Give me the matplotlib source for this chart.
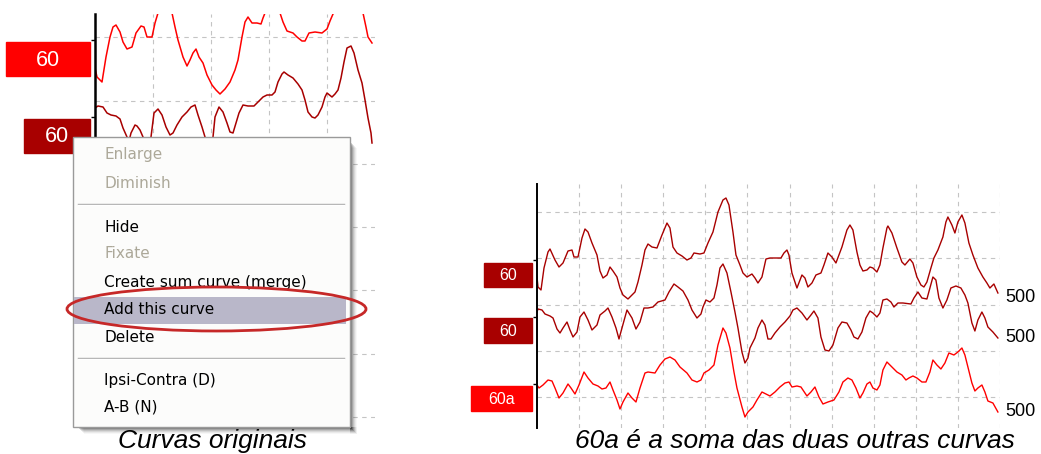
import numpy as np
import matplotlib.pyplot as plt
from matplotlib.patches import Rectangle, Ellipse

# ---- left screenshot: two original curves (time, amplitude) ----
l1_t = [0, 2, 7, 11, 15, 18, 21, 25, 28, 32, 37, 41, 46, 49, 52, 57, 60, 63, 70, 77, 80, 83,
        88, 92, 95, 98, 101, 104, 108, 112, 117, 121, 125, 130, 135, 140, 143, 147, 150, 153,
        157, 162, 166, 168, 170, 177, 185, 188, 192, 198, 202, 207, 210, 214, 220, 227, 232,
        235, 238, 250, 260, 268, 271, 273, 277]
l1_a = [-28, -37, -42, -17, 3, 13, 15, 8, -2, -9, -7, 7, 14, 13, 3, 3, 17, 27, 40, 27, 13, 0,
        -17, -26, -20, -13, -9, -17, -23, -35, -45, -50, -54, -49, -42, -30, -20, 3, 18, 23,
        17, 17, 16, 22, 27, 38, 27, 18, 9, 7, 3, -1, -1, 7, 8, 7, 11,
        19, 26, 45, 40, 27, 13, 3, -3]

l2_t = [0, 3, 8, 12, 16, 21, 25, 28, 32, 34, 36, 40, 42, 45, 48, 51, 56, 59, 63, 67, 71, 75,
        78, 82, 87, 92, 96, 100, 103, 107, 110, 114, 118, 120, 124, 128, 132, 135, 138, 141,
        144, 148, 153, 159, 163, 168, 172, 177, 180, 183, 187, 189, 193, 198, 203, 207, 210,
        213, 217, 220, 223, 227, 230, 232, 237, 240, 243, 246, 249, 252, 256, 259, 263, 267,
        270, 273, 276, 277]
l2_a = [9, 11, 10, 4, 2, 1, -2, -11, -20, -24, -16, -8, -9, -13, -20, -33, -20, 4, 8, 2, -10, -18,
        -16, -8, 0, 5, 10, 12, 2, -10, -20, -28, -20, 0, 10, 5, -6, -15, -16, -6,
        4, 12, 11, 11, 15, 20, 22, 22, 25, 35, 43, 45, 42, 39, 33, 27, 17,
        5, 0, -1, 2, 10, 20, 24, 20, 23, 27, 39, 55, 69, 71, 64, 47, 34,
        17, -1, -16, -26]

# ---- right screenshot: 60, 60 and their sum 60a ----
r1_t = [0, 1, 4, 7, 11, 13, 18, 22, 26, 31, 35, 37, 41, 45, 48, 51, 55, 60, 63, 66, 70, 73,
        76, 80, 83, 86, 91, 95, 98, 101, 105, 108, 111, 115, 120, 125, 130, 133, 136, 140,
        145, 150, 154, 157, 163, 167, 171, 176, 181, 186, 189, 192, 196, 199, 203, 206, 210,
        215, 218, 221, 225, 229, 233, 244, 247, 250, 252, 255, 260, 265, 268, 271, 275, 279,
        284, 287, 291, 295, 299, 302, 305, 310, 313, 316, 320, 323, 326, 330, 333, 336, 340,
        343, 346, 350, 351, 355, 360, 365, 368, 373, 376, 380, 384, 387, 390, 394, 397, 401,
        406, 409, 411, 415, 418, 421, 425, 428, 432, 436, 441, 446, 450, 453, 457, 461]
r1_a = [-17, -27, -30, -8, 8, 11, 0, -7, -3, 9, 10, 3, 3, 22, 31, 28, 17, 5, -11, -18, -15, -7,
        -11, -17, -28, -35, -39, -35, -32, -22, -5, 10, 16, 13, 12, 25, 37, 32, 13, 7,
        4, 0, 2, 7, 6, 7, 17, 28, 48, 60, 62, 55, 28, 5, -5, -13, -17,
        -14, -18, -23, -17, 1, 2, 2, 7, 10, 5, -13, -28, -15, -18, -27, -23, -15,
        -13, -5, 7, 3, -3, 5, 13, 30, 35, 30, 8, -5, -11, -10, -7, -8, -12,
        -5, 12, 32, 34, 27, 12, -2, -5, 1, -3, -17, -25, -27, -22, -8, 2, 10,
        23, 38, 43, 35, 27, 38, 45, 37, 17, 5, -8, -17, -23, -28, -24, -33]

r2_t = [0, 1, 5, 8, 13, 16, 20, 23, 26, 30, 33, 36, 40, 43, 47, 51, 55, 60, 63, 68, 71, 75,
        79, 82, 85, 90, 95, 99, 103, 107, 111, 116, 121, 128, 132, 137, 141, 146, 151, 155,
        160, 164, 166, 169, 173, 177, 180, 183, 186, 190, 194, 198, 201, 205, 208, 211, 213,
        218, 221, 225, 228, 231, 234, 238, 243, 248, 253, 256, 260, 265, 270, 274, 277, 281,
        284, 288, 292, 296, 301, 305, 310, 314, 317, 321, 325, 329, 333, 336, 340, 343, 346,
        350, 354, 357, 361, 366, 374, 377, 381, 385, 390, 393, 396, 399, 402, 406, 410, 414,
        419, 424, 428, 431, 435, 438, 441, 445, 448, 451, 456, 461]
r2_a = [5, 8, 7, 3, 1, -1, -12, -16, -11, -5, -13, -20, -15, 0, 5, -3, -13, -8, 2, 6, 9, 0,
        -11, -22, -11, 7, -1, -12, -5, 9, 9, 10, 15, 17, 25, 33, 30, 26, 17, 7,
        -1, 3, 10, 17, 15, 19, 32, 49, 53, 44, 25, 5, -11, -35, -46, -41, -31,
        -21, -11, -3, -8, -22, -22, -16, -10, -5, 1, 7, 9, 4, -3, 2, 6, -1,
        -20, -33, -34, -28, -11, -5, -6, -13, -20, -22, -15, -1, 6, 4, 0, 4, 17,
        18, 15, 10, 14, 14, 13, 19, 25, 19, 18, 29, 40, 37, 19, 9, 17, 29,
        31, 29, 22, 14, -6, -14, -3, 5, -1, -10, -15, -21]

r3_t = [0, 2, 6, 11, 15, 18, 22, 26, 31, 34, 38, 42, 47, 51, 56, 61, 65, 69, 73, 76, 80, 83,
        86, 91, 95, 99, 103, 108, 111, 118, 123, 128, 133, 138, 143, 150, 155, 160, 164, 167,
        172, 177, 181, 186, 189, 193, 197, 200, 205, 208, 211, 216, 220, 225, 229, 233, 238,
        243, 248, 252, 255, 260, 264, 270, 274, 278, 282, 286, 291, 297, 302, 306, 311, 315,
        319, 323, 326, 330, 333, 336, 340, 343, 346, 350, 355, 360, 365, 369, 372, 376, 380,
        385, 389, 393, 396, 400, 404, 408, 412, 417, 421, 425, 428, 431, 435, 438, 441, 445,
        448, 451, 456, 461]
r3_a = [-1, -4, -1, 4, 3, -4, -14, -9, 0, -4, -10, -1, 12, 6, 0, -2, -5, -4, 2, -6, -16, -25,
        -18, -9, -14, -18, -4, 11, 12, 11, 19, 25, 27, 24, 17, 11, 4, 2, 4, 11,
        14, 19, 39, 56, 51, 36, 12, -4, -23, -33, -28, -23, -16, -8, -10, -12, -8,
        -3, 1, 2, -3, -2, -3, -12, -8, -3, -13, -20, -18, -16, -8, 2, 6, 4,
        -4, -14, -9, 0, 2, -4, -6, -1, 14, 22, 17, 12, 9, 4, 6, 8, 6,
        2, 2, 12, 24, 19, 15, 21, 31, 29, 32, 36, 29, 17, 1, -7, -4, -1,
        -8, -17, -19, -28]

left_labels = ['60', '60']
right_labels = ['60', '60', '60a']
scale_labels = ['500', '500', '500']
menu_items = ['Enlarge', 'Diminish', None, 'Hide', 'Fixate', 'Create sum curve (merge)',
              'Add this curve', 'Delete', None, 'Ipsi-Contra (D)', 'A-B (N)']
menu_enabled = [False, False, None, True, False, True, True, True, None, True, True]
captions = ['Curvas originais', '60a é a soma das duas outras curvas']

RED = '#ff0000'
DARK = '#a80000'
W, H = 1041, 454

fig = plt.figure(figsize=(W / 100, H / 100), dpi=100)


def px_axes(left, top, width, height):
    return fig.add_axes([left / W, 1 - (top + height) / H, width / W, height / H])


def style(ax, xgrid, ygrid, base_ticks, lw_spine):
    for s in ['top', 'right', 'bottom']:
        ax.spines[s].set_visible(False)
    ax.spines['left'].set_linewidth(lw_spine)
    ax.set_xticks(xgrid)
    ax.set_yticks(ygrid)
    ax.set_yticks(base_ticks, minor=True)
    ax.tick_params(which='major', length=0, labelleft=False, labelbottom=False)
    ax.tick_params(which='minor', length=3, width=1, direction='out')
    ax.grid(True, which='major', color='#c4c4c4', lw=0.8, ls=(0, (4, 4)))
    ax.set_facecolor('none')


# left panel
axl = px_axes(95, 14, 280, 412)
axl.set_xlim(0, 280)
axl.set_ylim(4, 416)
style(axl, np.arange(58, 280, 58), np.arange(13, 416, 63.3), [390, 313], 1.8)
axl.plot(l1_t, np.array(l1_a) + 390, color=RED, lw=1.1)
axl.plot(l2_t, np.array(l2_a) + 313, color=DARK, lw=1.1)

# right panel
axr = px_axes(537, 184, 463, 244)
axr.set_xlim(0, 463)
axr.set_ylim(0, 244)
style(axr, np.arange(42.1, 464, 42.1), np.arange(31, 240, 46.2), [168, 111, 44], 1.4)
axr.plot(r1_t, np.array(r1_a) + 168, color=DARK, lw=1.0)
axr.plot(r2_t, np.array(r2_a) + 111, color=DARK, lw=1.0)
axr.plot(r3_t, np.array(r3_a) + 44, color=RED, lw=1.0)

# overlay in pixel coordinates for labels, menu and captions
ov = fig.add_axes([0, 0, 1, 1])
ov.set_xlim(0, W)
ov.set_ylim(H, 0)
ov.axis('off')

sans = ['Liberation Sans', 'DejaVu Sans']

# left labels
for (x0, y0, w, h, c), lab in zip([(6, 42, 84, 34, RED), (24, 119, 66, 34, DARK)], left_labels):
    ov.add_patch(Rectangle((x0, y0), w, h, color=c, zorder=2))
    ov.text(x0 + w / 2, y0 + h / 2 + 1, lab, color='white', fontsize=15.5, family=sans,
            ha='center', va='center', zorder=3)

# right labels
for (x0, y0, w, h, c), lab in zip([(484, 263, 48, 24, DARK), (484, 318, 48, 25, DARK),
                                   (471, 386, 61, 25, RED)], right_labels):
    ov.add_patch(Rectangle((x0, y0), w, h, color=c, zorder=2))
    ov.text(x0 + w / 2, y0 + h / 2 + 1, lab, color='white', fontsize=11.5, family=sans,
            ha='center', va='center', zorder=3)

for y, lab in zip([297, 338, 412], scale_labels):
    ov.text(1005, y, lab, color='black', fontsize=13, family=sans, ha='left', va='center')

# context menu
mx, my, mw, mh = 73, 137, 277, 290
for k, a in zip(range(1, 8), [0.22, 0.18, 0.14, 0.1, 0.07, 0.05, 0.03]):
    ov.add_patch(Rectangle((mx + mw, my + 4 + k), k, mh - 4, color='black', alpha=a,
                           lw=0, zorder=4))
    ov.add_patch(Rectangle((mx + 4 + k, my + mh), mw - 4, k, color='black', alpha=a,
                           lw=0, zorder=4))
ov.add_patch(Rectangle((mx, my), mw, mh, facecolor='#fcfcfb', edgecolor='#9a9a9a',
                       lw=1, zorder=5))
ov.add_patch(Rectangle((mx + 1, 297), 272, 27, color='#b9b7c9', lw=0, zorder=6))

item_y = [155, 183, 204, 227, 254, 282, 310, 338, 358, 381, 407]
for y, item, en in zip(item_y, menu_items, menu_enabled):
    if item is None:
        ov.plot([mx + 5, mx + mw - 6], [y, y], color='#a6a6a6', lw=1, zorder=6)
        ov.plot([mx + 5, mx + mw - 6], [y + 1, y + 1], color='white', lw=1, zorder=6)
    else:
        ov.text(104, y, item, color='black' if en else '#aca899', fontsize=11,
                family='DejaVu Sans', ha='left', va='center', zorder=7)

ov.add_patch(Ellipse((216.5, 309), 299, 44, fill=False, edgecolor='#c62828', lw=2,
                     zorder=8))

# captions
ov.text(212, 448, captions[0], fontsize=19, style='italic', family=sans,
        ha='center', va='baseline')
ov.text(795, 448, captions[1], fontsize=19, style='italic', family=sans,
        ha='center', va='baseline')

fig.savefig('out.png', dpi=100)
